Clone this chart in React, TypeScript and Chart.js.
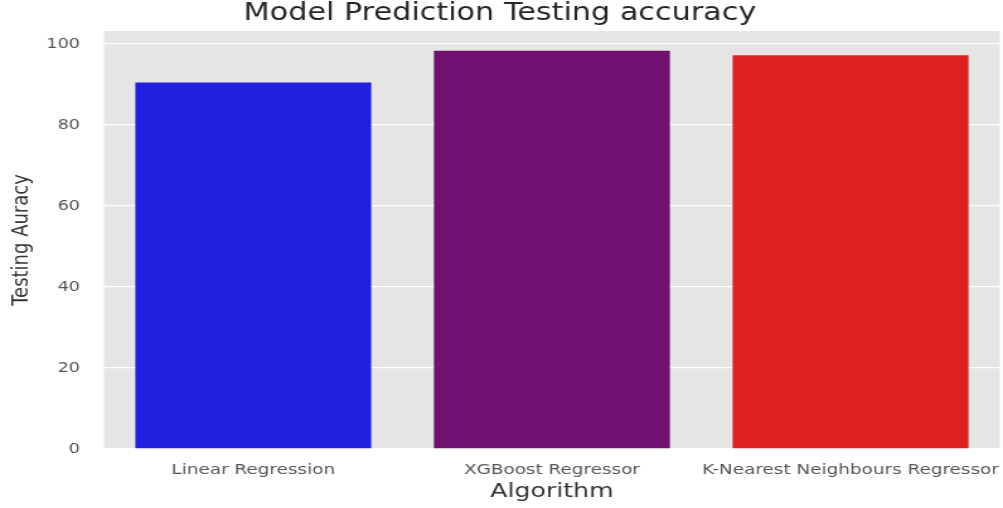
import React, { useEffect, useRef } from "react";
import { Chart, registerables } from "chart.js";

Chart.register(...registerables);

const categories = ["Linear Regression", "XGBoost Regressor", "K-Nearest Neighbours Regressor"];
const accuracy = [90.5, 98.3, 97.2];
const barColors = ["#2020DF", "#701070", "#DF2020"];
const yTicks = [0, 20, 40, 60, 80, 100];
const yMax = 103.2;

// The reference picture is stretched horizontally; draw narrower and scale up with CSS.
const DRAW_W = 796;
const DRAW_H = 508;

const plotBg = {
  id: "plotBg",
  beforeDraw(chart: any) {
    const { ctx, chartArea } = chart;
    ctx.save();
    ctx.fillStyle = "#E5E5E5";
    ctx.fillRect(chartArea.left, chartArea.top, chartArea.right - chartArea.left, chartArea.bottom - chartArea.top);
    ctx.restore();
  },
};

export default function App() {
  const ref = useRef<HTMLCanvasElement | null>(null);
  useEffect(() => {
    if (!ref.current) return;
    const chart = new Chart(ref.current, {
      type: "bar",
      data: {
        labels: categories,
        datasets: [
          {
            data: accuracy,
            backgroundColor: barColors,
            borderWidth: 0,
            barPercentage: 0.79,
            categoryPercentage: 1,
          },
        ],
      },
      options: {
        animation: false,
        responsive: false,
        devicePixelRatio: 1,
        layout: { padding: { left: 0, right: 2.5, top: 0, bottom: 0 } },
        plugins: {
          legend: { display: false },
          tooltip: { enabled: false },
          title: {
            display: true,
            text: "Model Prediction Testing accuracy",
            color: "#262626",
            font: { family: "'DejaVu Sans', sans-serif", size: 24, weight: "normal", lineHeight: 1 },
            padding: { top: 2, bottom: 5 },
          },
        },
        scales: {
          x: {
            grid: { display: false, drawTicks: false },
            border: { display: false },
            ticks: {
              color: "#555555",
              font: { family: "'DejaVu Sans', sans-serif", size: 14.6 },
              padding: 12,
              maxRotation: 0,
              autoSkip: false,
            },
            title: {
              display: true,
              text: "Algorithm",
              color: "#333333",
              font: { family: "'DejaVu Sans', sans-serif", size: 20, lineHeight: 1.2 },
              padding: { top: 0, bottom: 4 },
            },
            afterFit: (s: any) => {
              s.height = 59;
              s.paddingLeft = 0;
              s.paddingRight = 0;
            },
          },
          y: {
            min: 0,
            max: yMax,
            afterBuildTicks: (s: any) => {
              s.ticks = yTicks.map((v) => ({ value: v }));
            },
            grid: { color: "#FFFFFF", lineWidth: 1.3, drawTicks: false },
            border: { display: false },
            ticks: {
              color: "#555555",
              font: { family: "'DejaVu Sans', sans-serif", size: 14 },
              padding: 19,
            },
            title: {
              display: true,
              text: "Testing Auracy",
              color: "#333333",
              font: { family: "'DejaVu Sans', sans-serif", size: 18, lineHeight: 1.2 },
              padding: { top: 6.5, bottom: 0 },
            },
            afterFit: (s: any) => {
              s.width = 82.5;
            },
          },
        },
      },
      plugins: [plotBg],
    });
    return () => chart.destroy();
  }, []);
  return (
    <div style={{ position: "absolute", left: 0, top: 0, width: 1003, height: 508, background: "#fff" }}>
      <canvas ref={ref} width={DRAW_W} height={DRAW_H} style={{ width: "1003px", height: "508px", display: "block" }} />
    </div>
  );
}
